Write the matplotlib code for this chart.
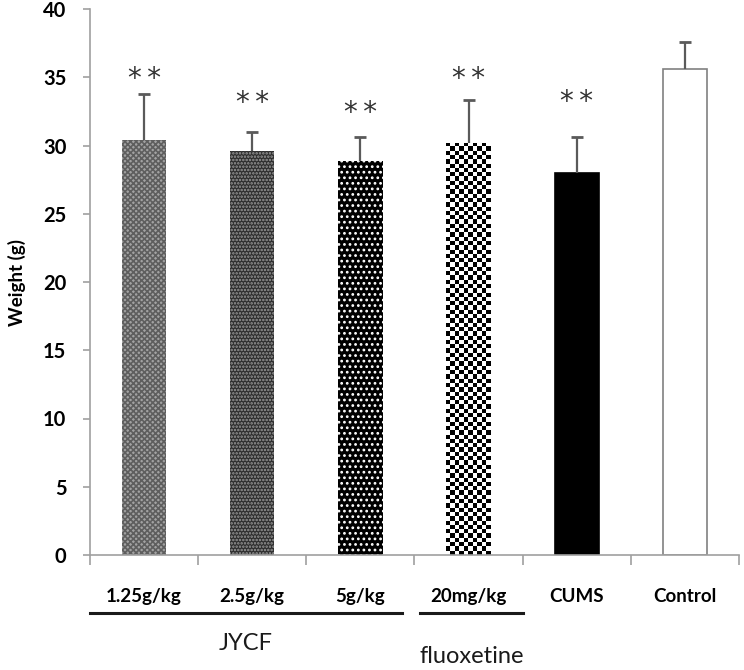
import numpy as np
import matplotlib
matplotlib.use('Agg')
import matplotlib.pyplot as plt
from matplotlib.transforms import blended_transform_factory

# valores
grupos = ['1.25g/kg', '2.5g/kg', '5g/kg', '20mg/kg', 'CUMS', 'Control']
peso = [30.4, 29.6, 28.9, 30.2, 28.0, 35.6]
erro = [3.4, 1.4, 1.7, 3.1, 2.6, 2.0]
estrelas = ['*\u2009*', '*\u2009*', '*\u2009*', '*\u2009*', '*\u2009*', '']
altura_estrela = [34.9, 33.1, 32.4, 34.9, 33.2, 0]
yticks = [0, 5, 10, 15, 20, 25, 30, 35, 40]

plt.rcParams['hatch.linewidth'] = 1.2
fonte = 'Lato'

fig = plt.figure(figsize=(7.44, 6.70), dpi=100)
ax = fig.add_axes([90 / 744, 1 - 555 / 670, 649 / 744, 546 / 670])

x = np.arange(len(grupos))
largura = 0.41
barras = ax.bar(x, peso, width=largura, color='white', edgecolor='#808080',
                linewidth=1.2, zorder=2)

# estilos de cada barra
estilos = [
    dict(fc='#a2a2a2', ec='#5e5e5e', hatch='xxxxxx'),
    dict(fc='#2e2e2e', ec='#9a9a9a', hatch='.....'),
    dict(fc='#000000', ec='#ffffff', hatch='...'),
    None,
    dict(fc='#000000', ec='#000000', hatch=None),
    dict(fc='#ffffff', ec='#808080', hatch=None),
]
for barra, est in zip(barras, estilos):
    if est is None:
        continue
    barra.set_facecolor(est['fc'])
    barra.set_edgecolor(est['ec'])
    if est['hatch']:
        barra.set_hatch(est['hatch'])
        barra.set_linewidth(0)

# barra xadrez (fluoxetina)
b4 = barras[3]
x0, w, h = b4.get_x(), b4.get_width(), b4.get_height()
nx = 10
ny = int(round(h * 13.65 / 4.3))
xadrez = (np.add.outer(np.arange(ny), np.arange(nx)) % 2).astype(float)
b4.set_facecolor('white')
b4.set_edgecolor('white')
b4.set_linewidth(0)
img = ax.imshow(xadrez, extent=(x0, x0 + w, 0, h), cmap='gray',
                interpolation='nearest', aspect='auto', zorder=2.5)
img.set_clip_path(b4)

eb = ax.errorbar(x, peso, yerr=[np.zeros(len(peso)), erro], fmt='none',
                 ecolor='#5a5a5a', elinewidth=1.6, capsize=4, capthick=2,
                 zorder=3)
# so a parte de cima tem traco
eb[1][0].set_visible(False)

for xi, s, y in zip(x, estrelas, altura_estrela):
    if s:
        ax.text(xi, y, s, ha='center', va='center', fontsize=20,
                family='DejaVu Sans', color='#333333')

ax.set_xlim(-0.5, len(grupos) - 0.5)
ax.set_ylim(0, 40)
ax.set_yticks(yticks)
ax.set_yticklabels([str(t) for t in yticks], fontsize=14.5,
                   fontweight='bold', family=fonte)
ax.set_xticks(x)
ax.set_xticklabels(grupos, fontsize=13.5, fontweight='bold', family=fonte)
ax.set_xticks(np.arange(-0.5, len(grupos)), minor=True)
ax.tick_params(axis='x', which='major', length=0, pad=24)
ax.tick_params(axis='x', which='minor', length=7, color='#a0a0a0', width=1.2)
ax.tick_params(axis='y', length=5, color='#a0a0a0', width=1.2, pad=12)

for lado in ['top', 'right']:
    ax.spines[lado].set_visible(False)
for lado in ['left', 'bottom']:
    ax.spines[lado].set_color('#a0a0a0')
    ax.spines[lado].set_linewidth(1.2)

ax.set_ylabel('Weight (g)', fontsize=13.5, fontweight='bold', family=fonte,
              labelpad=12)

# linhas de grupo
trans = blended_transform_factory(ax.transData, ax.transAxes)
tratamentos = [('JYCF', 0, 2, -0.162), ('fluoxetine', 3, 3, -0.186)]
for nome, i0, i1, ytxt in tratamentos:
    xa = i0 - 0.5 if i0 == 0 else i0 - 0.45
    xb = i1 + 0.38 if i1 < 3 else i1 + 0.5
    ax.plot([xa, xb], [-0.106, -0.106], transform=trans, color='#1a1a1a',
            linewidth=2.2, clip_on=False)
    ax.text((xa + xb) / 2, ytxt, nome, transform=trans, ha='center',
            va='center', fontsize=17, family=fonte, color='#1a1a1a')

fig.savefig('out.png', dpi=100)
